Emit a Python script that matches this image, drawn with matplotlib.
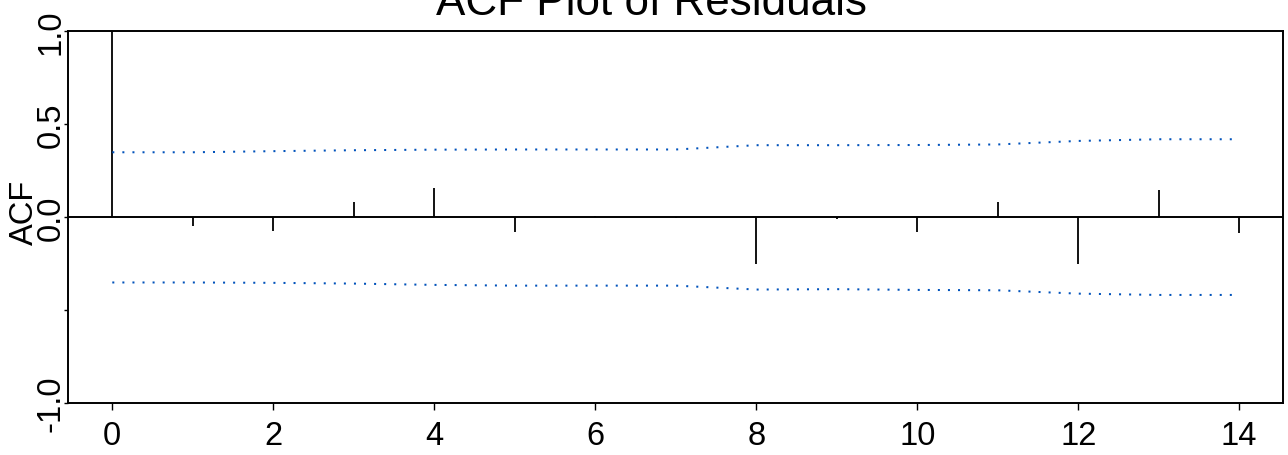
import matplotlib
matplotlib.use("Agg")
import matplotlib.pyplot as plt

plt.rcParams["font.family"] = ["Liberation Sans", "DejaVu Sans"]

# ACF of residuals
lags = list(range(15))
acf = [1.0, -0.05, -0.077, 0.079, 0.156, -0.083, 0.004, -0.004, -0.253,
       -0.012, -0.081, 0.081, -0.255, 0.146, -0.085]
# confidence band (dotted blue)
band_upper = [0.348, 0.348, 0.354, 0.359, 0.362, 0.363, 0.363, 0.363, 0.386,
              0.386, 0.387, 0.390, 0.409, 0.418, 0.418]
band_lower = [-0.352, -0.352, -0.354, -0.358, -0.365, -0.369, -0.369, -0.369,
              -0.390, -0.388, -0.392, -0.394, -0.412, -0.419, -0.419]

xticks = [0, 2, 4, 6, 8, 10, 12, 14]
yticks = [-1.0, -0.5, 0.0, 0.5, 1.0]
ytick_labels = ["-1.0", "", "0.0", "0.5", "1.0"]

W, H = 1288, 456
fig = plt.figure(figsize=(W / 100, H / 100), dpi=100)
left, right, top, bottom = 67.7, 1282.7, 32, 404
ax = fig.add_axes([left / W, 1 - bottom / H, (right - left) / W, (bottom - top) / H])

ax.vlines(lags, 0, acf, color="black", linewidth=1.3)
ax.axhline(0, color="black", linewidth=1.4)
ax.plot(lags, band_upper, color="#0052bb", linewidth=1.45,
        linestyle=(0, (1, 4.0)), dash_capstyle="butt")
ax.plot(lags, band_lower, color="#0052bb", linewidth=1.45,
        linestyle=(0, (1, 4.0)), dash_capstyle="butt")

ax.set_xlim(-0.554, 14.54)
ax.set_ylim(-1.0, 1.0)

ax.set_xticks(xticks)
ax.set_xticklabels([str(v) for v in xticks])
ax.set_yticks(yticks)
ax.set_yticklabels(ytick_labels, rotation=90, va="center")

ax.tick_params(axis="x", direction="out", length=5, width=1, pad=7, labelsize=23.5)
ax.tick_params(axis="y", direction="out", length=3, width=1, pad=-2, labelsize=23.5)

for s in ax.spines.values():
    s.set_linewidth(1.4)

ax.set_ylabel("ACF", fontsize=23.5)
ax.yaxis.set_label_coords((40 - left) / (right - left), 0.515)

fig.text(0.5 + 7 / W, 1 - 15 / H, "ACF Plot of Residuals", ha="center", va="baseline",
         fontsize=31.7)

fig.savefig("out.png", dpi=100)
